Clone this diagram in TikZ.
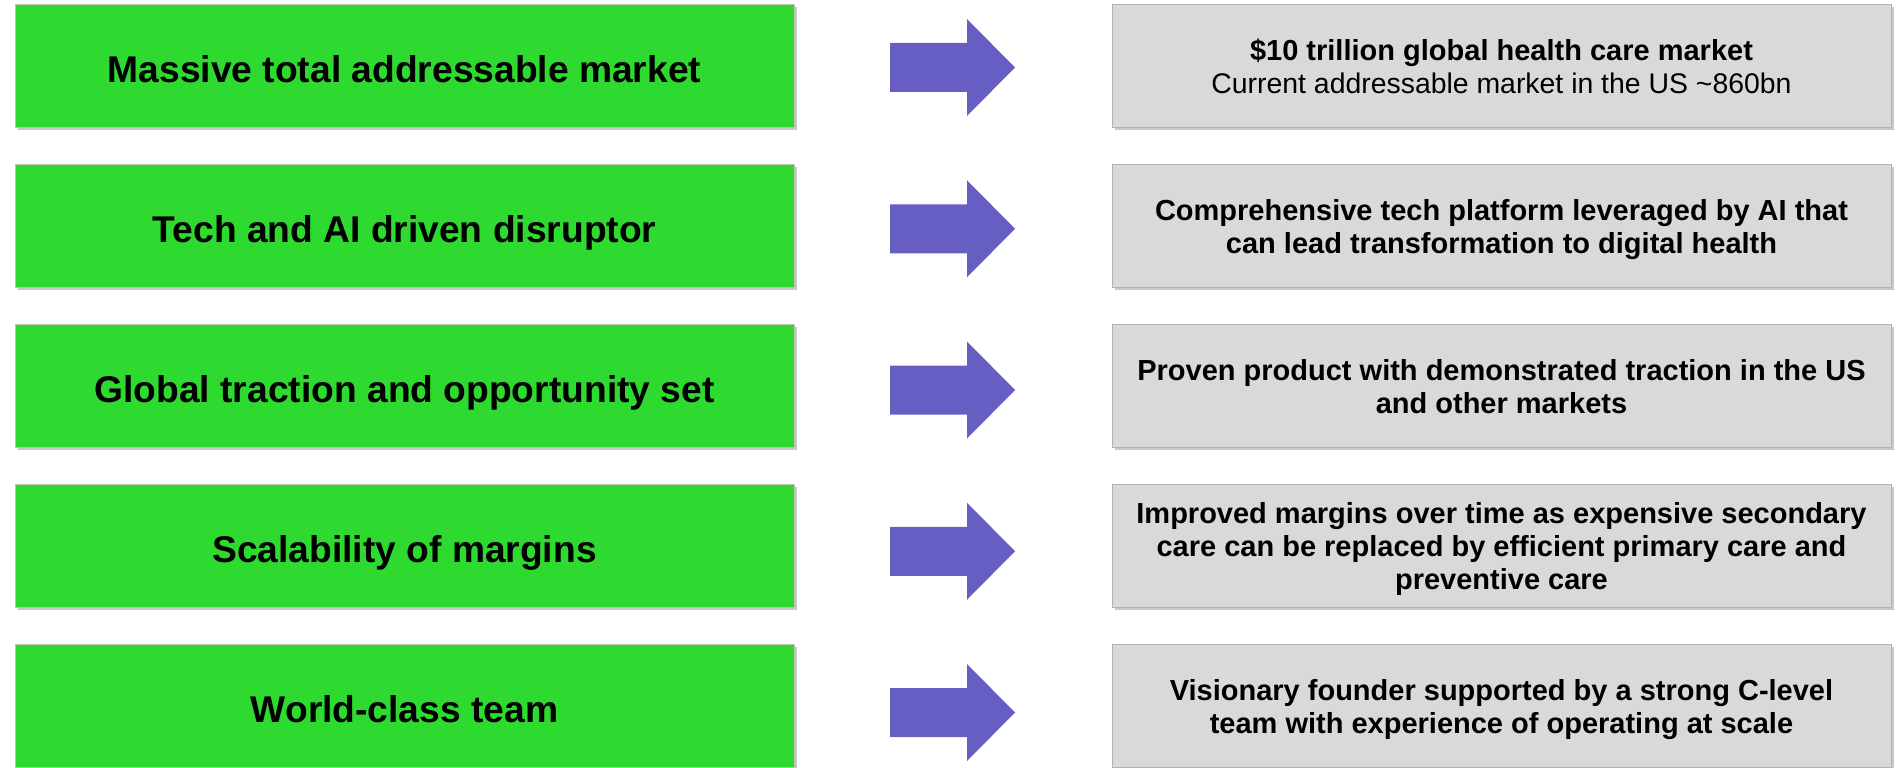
\documentclass[tikz,border=0pt]{standalone}
\usepackage{fontspec}
\setmainfont{Liberation Sans}
\usetikzlibrary{shadows}
\definecolor{boxgreen}{RGB}{46,218,48}
\definecolor{boxgray}{RGB}{217,217,217}
\definecolor{arrowpurple}{RGB}{102,94,194}
\begin{document}
\begin{tikzpicture}[x=1pt,y=-1pt,
  boxbase/.style={minimum width=779pt, minimum height=123pt, inner sep=0pt, outer sep=0pt, line width=0.8pt,
    drop shadow={shadow xshift=2.5pt, shadow yshift=-3pt, fill=black, opacity=0.22}},
  greenbox/.style={boxbase, draw=black!25, fill=boxgreen},
  graybox/.style={boxbase, draw=black!30, fill=boxgray},
  bigarrow/.style={fill=arrowpurple},
  gtext/.style={font=\bfseries\fontsize{37.2}{45}\selectfont, anchor=base, inner sep=0pt},
  rtext/.style={font=\bfseries\fontsize{29}{33}\selectfont, anchor=base, inner sep=0pt},
  rtextn/.style={font=\fontsize{28.4}{33}\selectfont, anchor=base, inner sep=0pt}]
\useasboundingbox (0,0) rectangle (1899,768);

% left green boxes
\node[greenbox] (l1) at (404.5,65.5) {};
\node[greenbox] (l2) at (404.5,225.5) {};
\node[greenbox] (l3) at (404.5,385.5) {};
\node[greenbox] (l4) at (404.5,545.5) {};
\node[greenbox] (l5) at (404.5,705.5) {};

\node[gtext] (lt1) at (404.5,82) {Massive total addressable market};
\node[gtext] (lt2) at (404.5,242) {Tech and AI driven disruptor};
\node[gtext] (lt3) at (404.5,402) {Global traction and opportunity set};
\node[gtext] (lt4) at (404.5,562) {Scalability of margins};
\node[gtext] (lt5) at (404.5,722) {World-class team};

% right gray boxes
\node[graybox] (r1) at (1501.5,65.5) {};
\node[graybox] (r2) at (1501.5,225.5) {};
\node[graybox] (r3) at (1501.5,385.5) {};
\node[graybox] (r4) at (1501.5,545.5) {};
\node[graybox] (r5) at (1501.5,705.5) {};

\node[rtext]  (rt1a) at (1501.5,60) {\$10 trillion global health care market};
\node[rtextn] (rt1b) at (1501.5,93) {Current addressable market in the US \textasciitilde 860bn};

\node[rtext] (rt2a) at (1501.5,220) {Comprehensive tech platform leveraged by AI that};
\node[rtext] (rt2b) at (1501.5,253) {can lead transformation to digital health};

\node[rtext] (rt3a) at (1501.5,380) {Proven product with demonstrated traction in the US};
\node[rtext] (rt3b) at (1501.5,413) {and other markets};

\node[rtext] (rt4a) at (1501.5,523.5) {Improved margins over time as expensive secondary};
\node[rtext] (rt4b) at (1501.5,556.5) {care can be replaced by efficient primary care and};
\node[rtext] (rt4c) at (1501.5,589.5) {preventive care};

\node[rtext] (rt5a) at (1501.5,700) {Visionary founder supported by a strong C-level};
\node[rtext] (rt5b) at (1501.5,733) {team with experience of operating at scale};

% arrows (block arrows between the columns)
\coordinate (a1) at (952.5,67.5);
\coordinate (a2) at (952.5,228.75);
\coordinate (a3) at (952.5,390);
\coordinate (a4) at (952.5,551.25);
\coordinate (a5) at (952.5,712.5);
\foreach \a in {a1,a2,a3,a4,a5}{
  \fill[bigarrow] ([shift={(-62.5,-24.5)}]\a) -- ([shift={(14.5,-24.5)}]\a) -- ([shift={(14.5,-48.5)}]\a)
    -- ([shift={(62.5,0)}]\a) -- ([shift={(14.5,48.5)}]\a) -- ([shift={(14.5,24.5)}]\a)
    -- ([shift={(-62.5,24.5)}]\a) -- cycle;
}
\end{tikzpicture}
\end{document}
